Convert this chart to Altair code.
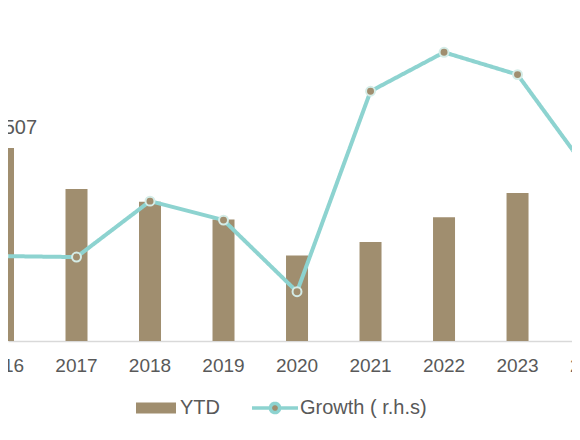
import altair as alt
import pandas as pd

# ---- data ----
years = [2016, 2017, 2018, 2019, 2020, 2021, 2022, 2023, 2024]
ytd = [1507, 1187, 1088, 948, 667, 772, 966, 1156, 1143]
growth = [-14.5, -14.8, 2.0, -3.7, -25.2, 35.0, 46.7, 40.0, 9.8]
year_labels = ["2016", "2017", "2018", "2019", "2020", "2021", "2022", "2023", "2024"]
bar_name = "YTD"
line_name = "Growth ( r.h.s)"

df = pd.DataFrame({"year": years, "ytd": ytd, "growth": growth, "label": year_labels})

BROWN = "#A08E6F"
TEAL = "#8DD3D0"
HALO = "#D4ECE7"
TEXT = "#595959"
FONT = "Liberation Sans"

xscale = alt.Scale(domain=[2016.068, 2023.741], nice=False, zero=False, padding=0)
xdef = alt.X(
    "year:Q",
    scale=xscale,
    axis=alt.Axis(labels=False, ticks=False, grid=False, domainColor="#D9D9D9",
                  domainWidth=1.5, title=None),
)
ybar = alt.Scale(domain=[0, 2600], nice=False, zero=True)
ygrowth = alt.Scale(domain=[-40, 60], nice=False, zero=False)

RECT = "M-1,-0.275L1,-0.275L1,0.275L-1,0.275Z"
LINEDOT = "M-1,0L-0.2,0M0.2,0L1,0M-0.2,0A0.2,0.2,0,1,1,0.2,0A0.2,0.2,0,1,1,-0.2,0Z"

legend_bar = alt.Legend(
    orient="none", legendX=128, legendY=380, direction="horizontal", title=None,
    labelFont=FONT, labelFontSize=20, labelColor=TEXT, labelOffset=4, padding=0,
    symbolType=RECT, symbolSize=1600, symbolFillColor=BROWN,
    symbolStrokeColor=BROWN, symbolStrokeWidth=0, symbolOpacity=1,
)
legend_line = alt.Legend(
    orient="none", legendX=242, legendY=375, direction="horizontal", title=None,
    labelFont=FONT, labelFontSize=20, labelColor=TEXT, labelOffset=0, padding=0,
    symbolType=LINEDOT, symbolSize=2116, symbolFillColor=BROWN,
    symbolStrokeColor=TEAL, symbolStrokeWidth=3.5, symbolOpacity=1,
)

base = alt.Chart(df)

bars = base.transform_calculate(bar_series=f"'{bar_name}'").mark_bar(
    size=22, clip=True, color=BROWN
).encode(
    x=xdef,
    y=alt.Y("ytd:Q", scale=ybar, axis=None),
    opacity=alt.Opacity("bar_series:N", scale=alt.Scale(domain=[bar_name], range=[1]),
                        legend=legend_bar),
)

first_label = base.transform_filter("datum.year == 2016").mark_text(
    dy=-20, dx=9, fontSize=20, font=FONT, color=TEXT, baseline="middle"
).encode(
    x=xdef,
    y=alt.Y("ytd:Q", scale=ybar, axis=None),
    text=alt.Text("ytd:Q", format=","),
)

line = base.transform_calculate(line_series=f"'{line_name}'").mark_line(
    strokeWidth=4, clip=True, color=TEAL
).encode(
    x=xdef,
    y=alt.Y("growth:Q", scale=ygrowth, axis=None),
    strokeDash=alt.StrokeDash("line_series:N",
                              scale=alt.Scale(domain=[line_name], range=[[1, 0]]),
                              legend=legend_line),
)

points = base.mark_circle(size=80, color=BROWN, stroke=HALO, strokeWidth=2,
                          opacity=1, clip=True).encode(
    x=xdef,
    y=alt.Y("growth:Q", scale=ygrowth, axis=None),
)

year_text = base.mark_text(fontSize=19, font=FONT, color=TEXT, baseline="middle").encode(
    x=xdef,
    y=alt.value(358),
    text="label:N",
)

chart = alt.layer(bars, first_label, line, points, year_text).resolve_scale(
    y="independent"
).properties(
    width=564,
    height=333,
    autosize=alt.AutoSizeParams(type="none"),
    padding={"left": 0, "right": 0, "top": 0, "bottom": 80},
    background="white",
).configure_view(stroke=None)

chart.save("out.html", embed_options={"renderer": "svg", "actions": False})
